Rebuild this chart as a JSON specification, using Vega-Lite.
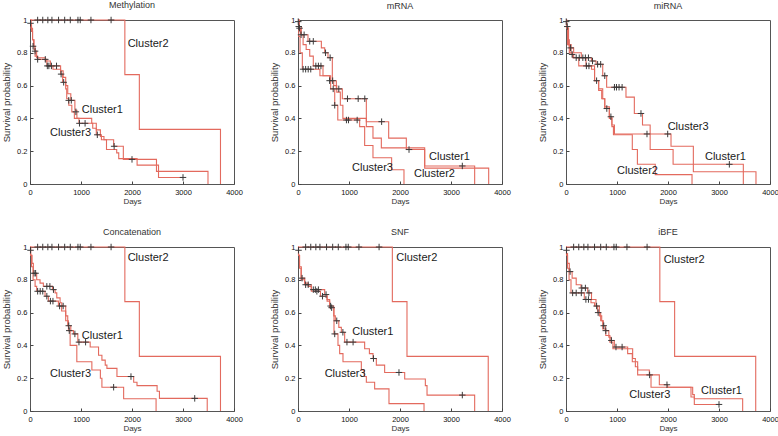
{
"$schema": "https://vega.github.io/schema/vega-lite/v6.json",
"padding": {"left": 1, "top": 0, "right": 0, "bottom": 0},
"background": "white",
"data": {"values": [
{"p":"Methylation","k":"c","g":"1","d":0,"s":1},{"p":"Methylation","k":"c","g":"1","d":15,"s":0.97},{"p":"Methylation","k":"c","g":"1","d":30,"s":0.93},{"p":"Methylation","k":"c","g":"1","d":50,"s":0.88},{"p":"Methylation","k":"c","g":"1","d":70,"s":0.84},{"p":"Methylation","k":"c","g":"1","d":100,"s":0.81},{"p":"Methylation","k":"c","g":"1","d":130,"s":0.77},{"p":"Methylation","k":"c","g":"1","d":300,"s":0.75},{"p":"Methylation","k":"c","g":"1","d":400,"s":0.72},{"p":"Methylation","k":"c","g":"1","d":600,"s":0.69},{"p":"Methylation","k":"c","g":"1","d":650,"s":0.65},{"p":"Methylation","k":"c","g":"1","d":700,"s":0.6},{"p":"Methylation","k":"c","g":"1","d":740,"s":0.55},{"p":"Methylation","k":"c","g":"1","d":800,"s":0.51},{"p":"Methylation","k":"c","g":"1","d":880,"s":0.45},{"p":"Methylation","k":"c","g":"1","d":920,"s":0.4},{"p":"Methylation","k":"c","g":"1","d":1210,"s":0.37},{"p":"Methylation","k":"c","g":"1","d":1300,"s":0.33},{"p":"Methylation","k":"c","g":"1","d":1380,"s":0.29},{"p":"Methylation","k":"c","g":"1","d":1450,"s":0.27},{"p":"Methylation","k":"c","g":"1","d":1640,"s":0.23},{"p":"Methylation","k":"c","g":"1","d":1830,"s":0.15},{"p":"Methylation","k":"c","g":"1","d":2480,"s":0.115},{"p":"Methylation","k":"c","g":"1","d":2520,"s":0.077},{"p":"Methylation","k":"c","g":"1","d":3490,"s":0},
{"p":"Methylation","k":"c","g":"3","d":0,"s":1},{"p":"Methylation","k":"c","g":"3","d":20,"s":0.95},{"p":"Methylation","k":"c","g":"3","d":50,"s":0.88},{"p":"Methylation","k":"c","g":"3","d":80,"s":0.82},{"p":"Methylation","k":"c","g":"3","d":100,"s":0.78},{"p":"Methylation","k":"c","g":"3","d":150,"s":0.76},{"p":"Methylation","k":"c","g":"3","d":330,"s":0.72},{"p":"Methylation","k":"c","g":"3","d":450,"s":0.7},{"p":"Methylation","k":"c","g":"3","d":600,"s":0.67},{"p":"Methylation","k":"c","g":"3","d":640,"s":0.62},{"p":"Methylation","k":"c","g":"3","d":700,"s":0.58},{"p":"Methylation","k":"c","g":"3","d":720,"s":0.52},{"p":"Methylation","k":"c","g":"3","d":760,"s":0.48},{"p":"Methylation","k":"c","g":"3","d":820,"s":0.44},{"p":"Methylation","k":"c","g":"3","d":870,"s":0.4},{"p":"Methylation","k":"c","g":"3","d":960,"s":0.37},{"p":"Methylation","k":"c","g":"3","d":1230,"s":0.34},{"p":"Methylation","k":"c","g":"3","d":1300,"s":0.3},{"p":"Methylation","k":"c","g":"3","d":1400,"s":0.27},{"p":"Methylation","k":"c","g":"3","d":1500,"s":0.21},{"p":"Methylation","k":"c","g":"3","d":1700,"s":0.19},{"p":"Methylation","k":"c","g":"3","d":1740,"s":0.155},{"p":"Methylation","k":"c","g":"3","d":2100,"s":0.115},{"p":"Methylation","k":"c","g":"3","d":2480,"s":0.077},{"p":"Methylation","k":"c","g":"3","d":2520,"s":0.04},{"p":"Methylation","k":"c","g":"3","d":3000,"s":0.04},
{"p":"Methylation","k":"c","g":"2","d":0,"s":1},{"p":"Methylation","k":"c","g":"2","d":1860,"s":0.667},{"p":"Methylation","k":"c","g":"2","d":2144,"s":0.333},{"p":"Methylation","k":"c","g":"2","d":3735,"s":0},
{"p":"Methylation","k":"x","d":10,"s":0.98},{"p":"Methylation","k":"x","d":60,"s":0.84},{"p":"Methylation","k":"x","d":100,"s":0.81},{"p":"Methylation","k":"x","d":150,"s":0.76},{"p":"Methylation","k":"x","d":300,"s":0.76},{"p":"Methylation","k":"x","d":340,"s":0.72},{"p":"Methylation","k":"x","d":370,"s":0.72},{"p":"Methylation","k":"x","d":420,"s":0.72},{"p":"Methylation","k":"x","d":520,"s":0.72},{"p":"Methylation","k":"x","d":610,"s":0.67},{"p":"Methylation","k":"x","d":660,"s":0.62},{"p":"Methylation","k":"x","d":760,"s":0.51},{"p":"Methylation","k":"x","d":810,"s":0.51},{"p":"Methylation","k":"x","d":900,"s":0.44},{"p":"Methylation","k":"x","d":970,"s":0.37},{"p":"Methylation","k":"x","d":1080,"s":0.37},{"p":"Methylation","k":"x","d":1320,"s":0.3},{"p":"Methylation","k":"x","d":1650,"s":0.23},{"p":"Methylation","k":"x","d":2000,"s":0.15},{"p":"Methylation","k":"x","d":3000,"s":0.04},
{"p":"Methylation","k":"x","d":150,"s":1},{"p":"Methylation","k":"x","d":250,"s":1},{"p":"Methylation","k":"x","d":350,"s":1},{"p":"Methylation","k":"x","d":430,"s":1},{"p":"Methylation","k":"x","d":560,"s":1},{"p":"Methylation","k":"x","d":680,"s":1},{"p":"Methylation","k":"x","d":790,"s":1},{"p":"Methylation","k":"x","d":940,"s":1},{"p":"Methylation","k":"x","d":985,"s":1},{"p":"Methylation","k":"x","d":1195,"s":1},{"p":"Methylation","k":"x","d":1590,"s":1},
{"p":"Methylation","k":"t","t":"Cluster2","d":1915,"s":0.852},{"p":"Methylation","k":"t","t":"Cluster1","d":1016,"s":0.452},{"p":"Methylation","k":"t","t":"Cluster3","d":393,"s":0.314},

{"p":"mRNA","k":"c","g":"1","d":0,"s":1},{"p":"mRNA","k":"c","g":"1","d":20,"s":0.96},{"p":"mRNA","k":"c","g":"1","d":65,"s":0.91},{"p":"mRNA","k":"c","g":"1","d":196,"s":0.87},{"p":"mRNA","k":"c","g":"1","d":458,"s":0.83},{"p":"mRNA","k":"c","g":"1","d":523,"s":0.8},{"p":"mRNA","k":"c","g":"1","d":588,"s":0.77},{"p":"mRNA","k":"c","g":"1","d":673,"s":0.63},{"p":"mRNA","k":"c","g":"1","d":752,"s":0.58},{"p":"mRNA","k":"c","g":"1","d":869,"s":0.52},{"p":"mRNA","k":"c","g":"1","d":1340,"s":0.38},{"p":"mRNA","k":"c","g":"1","d":1778,"s":0.28},{"p":"mRNA","k":"c","g":"1","d":2124,"s":0.21},{"p":"mRNA","k":"c","g":"1","d":2484,"s":0.097},{"p":"mRNA","k":"c","g":"1","d":3739,"s":0},
{"p":"mRNA","k":"c","g":"2","d":0,"s":1},{"p":"mRNA","k":"c","g":"2","d":25,"s":0.95},{"p":"mRNA","k":"c","g":"2","d":50,"s":0.91},{"p":"mRNA","k":"c","g":"2","d":100,"s":0.85},{"p":"mRNA","k":"c","g":"2","d":160,"s":0.82},{"p":"mRNA","k":"c","g":"2","d":230,"s":0.78},{"p":"mRNA","k":"c","g":"2","d":300,"s":0.72},{"p":"mRNA","k":"c","g":"2","d":490,"s":0.66},{"p":"mRNA","k":"c","g":"2","d":620,"s":0.63},{"p":"mRNA","k":"c","g":"2","d":700,"s":0.6},{"p":"mRNA","k":"c","g":"2","d":760,"s":0.56},{"p":"mRNA","k":"c","g":"2","d":830,"s":0.48},{"p":"mRNA","k":"c","g":"2","d":880,"s":0.4},{"p":"mRNA","k":"c","g":"2","d":1340,"s":0.35},{"p":"mRNA","k":"c","g":"2","d":1470,"s":0.28},{"p":"mRNA","k":"c","g":"2","d":1634,"s":0.22},{"p":"mRNA","k":"c","g":"2","d":2484,"s":0.11},{"p":"mRNA","k":"c","g":"2","d":3464,"s":0},
{"p":"mRNA","k":"c","g":"3","d":0,"s":1},{"p":"mRNA","k":"c","g":"3","d":15,"s":0.9},{"p":"mRNA","k":"c","g":"3","d":40,"s":0.8},{"p":"mRNA","k":"c","g":"3","d":85,"s":0.7},{"p":"mRNA","k":"c","g":"3","d":430,"s":0.66},{"p":"mRNA","k":"c","g":"3","d":640,"s":0.58},{"p":"mRNA","k":"c","g":"3","d":720,"s":0.48},{"p":"mRNA","k":"c","g":"3","d":780,"s":0.39},{"p":"mRNA","k":"c","g":"3","d":1209,"s":0.35},{"p":"mRNA","k":"c","g":"3","d":1307,"s":0.235},{"p":"mRNA","k":"c","g":"3","d":1470,"s":0.16},{"p":"mRNA","k":"c","g":"3","d":1836,"s":0.087},{"p":"mRNA","k":"c","g":"3","d":2078,"s":0},
{"p":"mRNA","k":"x","d":5,"s":0.99},{"p":"mRNA","k":"x","d":15,"s":0.96},{"p":"mRNA","k":"x","d":30,"s":0.95},{"p":"mRNA","k":"x","d":60,"s":0.91},{"p":"mRNA","k":"x","d":120,"s":0.91},{"p":"mRNA","k":"x","d":230,"s":0.87},{"p":"mRNA","k":"x","d":300,"s":0.87},{"p":"mRNA","k":"x","d":540,"s":0.8},{"p":"mRNA","k":"x","d":630,"s":0.77},{"p":"mRNA","k":"x","d":100,"s":0.7},{"p":"mRNA","k":"x","d":150,"s":0.7},{"p":"mRNA","k":"x","d":200,"s":0.7},{"p":"mRNA","k":"x","d":250,"s":0.7},{"p":"mRNA","k":"x","d":350,"s":0.72},{"p":"mRNA","k":"x","d":400,"s":0.72},{"p":"mRNA","k":"x","d":450,"s":0.72},{"p":"mRNA","k":"x","d":620,"s":0.63},{"p":"mRNA","k":"x","d":680,"s":0.63},{"p":"mRNA","k":"x","d":690,"s":0.58},{"p":"mRNA","k":"x","d":720,"s":0.48},{"p":"mRNA","k":"x","d":800,"s":0.58},{"p":"mRNA","k":"x","d":970,"s":0.52},{"p":"mRNA","k":"x","d":1180,"s":0.52},{"p":"mRNA","k":"x","d":1310,"s":0.52},{"p":"mRNA","k":"x","d":950,"s":0.39},{"p":"mRNA","k":"x","d":990,"s":0.39},{"p":"mRNA","k":"x","d":1160,"s":0.39},{"p":"mRNA","k":"x","d":1640,"s":0.38},{"p":"mRNA","k":"x","d":2177,"s":0.21},{"p":"mRNA","k":"x","d":3222,"s":0.11},
{"p":"mRNA","k":"t","t":"Cluster1","d":2569,"s":0.162},{"p":"mRNA","k":"t","t":"Cluster2","d":2274,"s":0.061},{"p":"mRNA","k":"t","t":"Cluster3","d":1059,"s":0.097},

{"p":"miRNA","k":"c","g":"1","d":0,"s":1},{"p":"miRNA","k":"c","g":"1","d":10,"s":0.96},{"p":"miRNA","k":"c","g":"1","d":40,"s":0.88},{"p":"miRNA","k":"c","g":"1","d":65,"s":0.83},{"p":"miRNA","k":"c","g":"1","d":150,"s":0.8},{"p":"miRNA","k":"c","g":"1","d":300,"s":0.77},{"p":"miRNA","k":"c","g":"1","d":500,"s":0.75},{"p":"miRNA","k":"c","g":"1","d":590,"s":0.73},{"p":"miRNA","k":"c","g":"1","d":720,"s":0.66},{"p":"miRNA","k":"c","g":"1","d":797,"s":0.59},{"p":"miRNA","k":"c","g":"1","d":1176,"s":0.53},{"p":"miRNA","k":"c","g":"1","d":1340,"s":0.43},{"p":"miRNA","k":"c","g":"1","d":1500,"s":0.36},{"p":"miRNA","k":"c","g":"1","d":1650,"s":0.21},{"p":"miRNA","k":"c","g":"1","d":2100,"s":0.12},{"p":"miRNA","k":"c","g":"1","d":3477,"s":0},
{"p":"miRNA","k":"c","g":"3","d":0,"s":1},{"p":"miRNA","k":"c","g":"3","d":15,"s":0.95},{"p":"miRNA","k":"c","g":"3","d":50,"s":0.85},{"p":"miRNA","k":"c","g":"3","d":100,"s":0.79},{"p":"miRNA","k":"c","g":"3","d":150,"s":0.77},{"p":"miRNA","k":"c","g":"3","d":250,"s":0.72},{"p":"miRNA","k":"c","g":"3","d":500,"s":0.7},{"p":"miRNA","k":"c","g":"3","d":560,"s":0.63},{"p":"miRNA","k":"c","g":"3","d":640,"s":0.58},{"p":"miRNA","k":"c","g":"3","d":720,"s":0.52},{"p":"miRNA","k":"c","g":"3","d":760,"s":0.47},{"p":"miRNA","k":"c","g":"3","d":850,"s":0.4},{"p":"miRNA","k":"c","g":"3","d":900,"s":0.36},{"p":"miRNA","k":"c","g":"3","d":950,"s":0.305},{"p":"miRNA","k":"c","g":"3","d":2059,"s":0.23},{"p":"miRNA","k":"c","g":"3","d":2497,"s":0.075},{"p":"miRNA","k":"c","g":"3","d":3725,"s":0},
{"p":"miRNA","k":"c","g":"2","d":0,"s":1},{"p":"miRNA","k":"c","g":"2","d":10,"s":0.95},{"p":"miRNA","k":"c","g":"2","d":30,"s":0.85},{"p":"miRNA","k":"c","g":"2","d":65,"s":0.8},{"p":"miRNA","k":"c","g":"2","d":130,"s":0.77},{"p":"miRNA","k":"c","g":"2","d":392,"s":0.72},{"p":"miRNA","k":"c","g":"2","d":560,"s":0.63},{"p":"miRNA","k":"c","g":"2","d":640,"s":0.57},{"p":"miRNA","k":"c","g":"2","d":700,"s":0.52},{"p":"miRNA","k":"c","g":"2","d":760,"s":0.46},{"p":"miRNA","k":"c","g":"2","d":850,"s":0.41},{"p":"miRNA","k":"c","g":"2","d":900,"s":0.35},{"p":"miRNA","k":"c","g":"2","d":930,"s":0.3},{"p":"miRNA","k":"c","g":"2","d":1300,"s":0.21},{"p":"miRNA","k":"c","g":"2","d":1400,"s":0.12},{"p":"miRNA","k":"c","g":"2","d":1750,"s":0.057},{"p":"miRNA","k":"c","g":"2","d":2471,"s":0},
{"p":"miRNA","k":"x","d":5,"s":0.99},{"p":"miRNA","k":"x","d":25,"s":0.96},{"p":"miRNA","k":"x","d":90,"s":0.83},{"p":"miRNA","k":"x","d":120,"s":0.79},{"p":"miRNA","k":"x","d":200,"s":0.77},{"p":"miRNA","k":"x","d":260,"s":0.77},{"p":"miRNA","k":"x","d":330,"s":0.77},{"p":"miRNA","k":"x","d":380,"s":0.77},{"p":"miRNA","k":"x","d":440,"s":0.77},{"p":"miRNA","k":"x","d":400,"s":0.72},{"p":"miRNA","k":"x","d":450,"s":0.72},{"p":"miRNA","k":"x","d":520,"s":0.75},{"p":"miRNA","k":"x","d":620,"s":0.73},{"p":"miRNA","k":"x","d":680,"s":0.73},{"p":"miRNA","k":"x","d":600,"s":0.63},{"p":"miRNA","k":"x","d":760,"s":0.66},{"p":"miRNA","k":"x","d":800,"s":0.46},{"p":"miRNA","k":"x","d":880,"s":0.41},{"p":"miRNA","k":"x","d":950,"s":0.59},{"p":"miRNA","k":"x","d":990,"s":0.59},{"p":"miRNA","k":"x","d":1040,"s":0.59},{"p":"miRNA","k":"x","d":1100,"s":0.59},{"p":"miRNA","k":"x","d":1470,"s":0.43},{"p":"miRNA","k":"x","d":1588,"s":0.305},{"p":"miRNA","k":"x","d":1994,"s":0.305},{"p":"miRNA","k":"x","d":3203,"s":0.12},
{"p":"miRNA","k":"t","t":"Cluster3","d":1993,"s":0.345},{"p":"miRNA","k":"t","t":"Cluster1","d":2725,"s":0.162},{"p":"miRNA","k":"t","t":"Cluster2","d":1000,"s":0.081},

{"p":"Concatenation","k":"c","g":"1","d":0,"s":1},{"p":"Concatenation","k":"c","g":"1","d":15,"s":0.95},{"p":"Concatenation","k":"c","g":"1","d":40,"s":0.9},{"p":"Concatenation","k":"c","g":"1","d":66,"s":0.84},{"p":"Concatenation","k":"c","g":"1","d":131,"s":0.8},{"p":"Concatenation","k":"c","g":"1","d":197,"s":0.78},{"p":"Concatenation","k":"c","g":"1","d":262,"s":0.76},{"p":"Concatenation","k":"c","g":"1","d":440,"s":0.74},{"p":"Concatenation","k":"c","g":"1","d":492,"s":0.72},{"p":"Concatenation","k":"c","g":"1","d":525,"s":0.69},{"p":"Concatenation","k":"c","g":"1","d":590,"s":0.66},{"p":"Concatenation","k":"c","g":"1","d":623,"s":0.64},{"p":"Concatenation","k":"c","g":"1","d":700,"s":0.58},{"p":"Concatenation","k":"c","g":"1","d":740,"s":0.52},{"p":"Concatenation","k":"c","g":"1","d":800,"s":0.49},{"p":"Concatenation","k":"c","g":"1","d":852,"s":0.47},{"p":"Concatenation","k":"c","g":"1","d":938,"s":0.42},{"p":"Concatenation","k":"c","g":"1","d":1180,"s":0.39},{"p":"Concatenation","k":"c","g":"1","d":1344,"s":0.34},{"p":"Concatenation","k":"c","g":"1","d":1410,"s":0.31},{"p":"Concatenation","k":"c","g":"1","d":1475,"s":0.28},{"p":"Concatenation","k":"c","g":"1","d":1508,"s":0.26},{"p":"Concatenation","k":"c","g":"1","d":1705,"s":0.21},{"p":"Concatenation","k":"c","g":"1","d":2033,"s":0.175},{"p":"Concatenation","k":"c","g":"1","d":2098,"s":0.155},{"p":"Concatenation","k":"c","g":"1","d":2492,"s":0.12},{"p":"Concatenation","k":"c","g":"1","d":2538,"s":0.077},{"p":"Concatenation","k":"c","g":"1","d":3475,"s":0},
{"p":"Concatenation","k":"c","g":"3","d":0,"s":1},{"p":"Concatenation","k":"c","g":"3","d":10,"s":0.95},{"p":"Concatenation","k":"c","g":"3","d":30,"s":0.88},{"p":"Concatenation","k":"c","g":"3","d":60,"s":0.8},{"p":"Concatenation","k":"c","g":"3","d":100,"s":0.76},{"p":"Concatenation","k":"c","g":"3","d":131,"s":0.73},{"p":"Concatenation","k":"c","g":"3","d":295,"s":0.7},{"p":"Concatenation","k":"c","g":"3","d":361,"s":0.67},{"p":"Concatenation","k":"c","g":"3","d":557,"s":0.64},{"p":"Concatenation","k":"c","g":"3","d":620,"s":0.61},{"p":"Concatenation","k":"c","g":"3","d":700,"s":0.55},{"p":"Concatenation","k":"c","g":"3","d":754,"s":0.49},{"p":"Concatenation","k":"c","g":"3","d":787,"s":0.4},{"p":"Concatenation","k":"c","g":"3","d":918,"s":0.3},{"p":"Concatenation","k":"c","g":"3","d":1213,"s":0.25},{"p":"Concatenation","k":"c","g":"3","d":1380,"s":0.2},{"p":"Concatenation","k":"c","g":"3","d":1410,"s":0.145},{"p":"Concatenation","k":"c","g":"3","d":1836,"s":0.075},{"p":"Concatenation","k":"c","g":"3","d":2472,"s":0},
{"p":"Concatenation","k":"c","g":"2","d":0,"s":1},{"p":"Concatenation","k":"c","g":"2","d":1860,"s":0.667},{"p":"Concatenation","k":"c","g":"2","d":2144,"s":0.333},{"p":"Concatenation","k":"c","g":"2","d":3735,"s":0},
{"p":"Concatenation","k":"x","d":10,"s":0.98},{"p":"Concatenation","k":"x","d":80,"s":0.84},{"p":"Concatenation","k":"x","d":110,"s":0.84},{"p":"Concatenation","k":"x","d":150,"s":0.73},{"p":"Concatenation","k":"x","d":200,"s":0.73},{"p":"Concatenation","k":"x","d":250,"s":0.73},{"p":"Concatenation","k":"x","d":330,"s":0.76},{"p":"Concatenation","k":"x","d":390,"s":0.76},{"p":"Concatenation","k":"x","d":330,"s":0.7},{"p":"Concatenation","k":"x","d":400,"s":0.67},{"p":"Concatenation","k":"x","d":450,"s":0.67},{"p":"Concatenation","k":"x","d":460,"s":0.74},{"p":"Concatenation","k":"x","d":580,"s":0.64},{"p":"Concatenation","k":"x","d":650,"s":0.64},{"p":"Concatenation","k":"x","d":760,"s":0.52},{"p":"Concatenation","k":"x","d":770,"s":0.49},{"p":"Concatenation","k":"x","d":880,"s":0.47},{"p":"Concatenation","k":"x","d":960,"s":0.42},{"p":"Concatenation","k":"x","d":1090,"s":0.42},{"p":"Concatenation","k":"x","d":1640,"s":0.145},{"p":"Concatenation","k":"x","d":1980,"s":0.21},{"p":"Concatenation","k":"x","d":3230,"s":0.077},
{"p":"Concatenation","k":"x","d":150,"s":1},{"p":"Concatenation","k":"x","d":250,"s":1},{"p":"Concatenation","k":"x","d":350,"s":1},{"p":"Concatenation","k":"x","d":430,"s":1},{"p":"Concatenation","k":"x","d":560,"s":1},{"p":"Concatenation","k":"x","d":680,"s":1},{"p":"Concatenation","k":"x","d":790,"s":1},{"p":"Concatenation","k":"x","d":940,"s":1},{"p":"Concatenation","k":"x","d":985,"s":1},{"p":"Concatenation","k":"x","d":1195,"s":1},{"p":"Concatenation","k":"x","d":1590,"s":1},
{"p":"Concatenation","k":"t","t":"Cluster2","d":1915,"s":0.933},{"p":"Concatenation","k":"t","t":"Cluster1","d":1016,"s":0.46},{"p":"Concatenation","k":"t","t":"Cluster3","d":393,"s":0.226},

{"p":"SNF","k":"c","g":"1","d":0,"s":1},{"p":"SNF","k":"c","g":"1","d":10,"s":0.95},{"p":"SNF","k":"c","g":"1","d":30,"s":0.88},{"p":"SNF","k":"c","g":"1","d":65,"s":0.81},{"p":"SNF","k":"c","g":"1","d":131,"s":0.78},{"p":"SNF","k":"c","g":"1","d":200,"s":0.76},{"p":"SNF","k":"c","g":"1","d":261,"s":0.74},{"p":"SNF","k":"c","g":"1","d":523,"s":0.71},{"p":"SNF","k":"c","g":"1","d":570,"s":0.68},{"p":"SNF","k":"c","g":"1","d":621,"s":0.64},{"p":"SNF","k":"c","g":"1","d":700,"s":0.58},{"p":"SNF","k":"c","g":"1","d":732,"s":0.55},{"p":"SNF","k":"c","g":"1","d":800,"s":0.51},{"p":"SNF","k":"c","g":"1","d":850,"s":0.48},{"p":"SNF","k":"c","g":"1","d":915,"s":0.42},{"p":"SNF","k":"c","g":"1","d":1307,"s":0.38},{"p":"SNF","k":"c","g":"1","d":1400,"s":0.35},{"p":"SNF","k":"c","g":"1","d":1471,"s":0.32},{"p":"SNF","k":"c","g":"1","d":1536,"s":0.28},{"p":"SNF","k":"c","g":"1","d":1699,"s":0.235},{"p":"SNF","k":"c","g":"1","d":2092,"s":0.195},{"p":"SNF","k":"c","g":"1","d":2497,"s":0.155},{"p":"SNF","k":"c","g":"1","d":2530,"s":0.097},{"p":"SNF","k":"c","g":"1","d":3464,"s":0},
{"p":"SNF","k":"c","g":"3","d":0,"s":1},{"p":"SNF","k":"c","g":"3","d":10,"s":0.95},{"p":"SNF","k":"c","g":"3","d":30,"s":0.87},{"p":"SNF","k":"c","g":"3","d":60,"s":0.8},{"p":"SNF","k":"c","g":"3","d":131,"s":0.77},{"p":"SNF","k":"c","g":"3","d":261,"s":0.73},{"p":"SNF","k":"c","g":"3","d":440,"s":0.7},{"p":"SNF","k":"c","g":"3","d":570,"s":0.67},{"p":"SNF","k":"c","g":"3","d":621,"s":0.63},{"p":"SNF","k":"c","g":"3","d":706,"s":0.47},{"p":"SNF","k":"c","g":"3","d":784,"s":0.4},{"p":"SNF","k":"c","g":"3","d":817,"s":0.35},{"p":"SNF","k":"c","g":"3","d":882,"s":0.3},{"p":"SNF","k":"c","g":"3","d":1242,"s":0.25},{"p":"SNF","k":"c","g":"3","d":1300,"s":0.21},{"p":"SNF","k":"c","g":"3","d":1340,"s":0.175},{"p":"SNF","k":"c","g":"3","d":1503,"s":0.135},{"p":"SNF","k":"c","g":"3","d":1784,"s":0.045},{"p":"SNF","k":"c","g":"3","d":2471,"s":0},
{"p":"SNF","k":"c","g":"2","d":0,"s":1},{"p":"SNF","k":"c","g":"2","d":1850,"s":0.667},{"p":"SNF","k":"c","g":"2","d":2137,"s":0.333},{"p":"SNF","k":"c","g":"2","d":3730,"s":0},
{"p":"SNF","k":"x","d":10,"s":0.98},{"p":"SNF","k":"x","d":80,"s":0.81},{"p":"SNF","k":"x","d":150,"s":0.77},{"p":"SNF","k":"x","d":200,"s":0.77},{"p":"SNF","k":"x","d":300,"s":0.74},{"p":"SNF","k":"x","d":340,"s":0.74},{"p":"SNF","k":"x","d":400,"s":0.74},{"p":"SNF","k":"x","d":370,"s":0.73},{"p":"SNF","k":"x","d":550,"s":0.71},{"p":"SNF","k":"x","d":480,"s":0.7},{"p":"SNF","k":"x","d":640,"s":0.64},{"p":"SNF","k":"x","d":660,"s":0.63},{"p":"SNF","k":"x","d":720,"s":0.47},{"p":"SNF","k":"x","d":760,"s":0.55},{"p":"SNF","k":"x","d":880,"s":0.48},{"p":"SNF","k":"x","d":960,"s":0.42},{"p":"SNF","k":"x","d":1080,"s":0.42},{"p":"SNF","k":"x","d":1480,"s":0.32},{"p":"SNF","k":"x","d":1980,"s":0.235},{"p":"SNF","k":"x","d":3222,"s":0.097},
{"p":"SNF","k":"x","d":150,"s":1},{"p":"SNF","k":"x","d":250,"s":1},{"p":"SNF","k":"x","d":350,"s":1},{"p":"SNF","k":"x","d":430,"s":1},{"p":"SNF","k":"x","d":560,"s":1},{"p":"SNF","k":"x","d":680,"s":1},{"p":"SNF","k":"x","d":790,"s":1},{"p":"SNF","k":"x","d":940,"s":1},{"p":"SNF","k":"x","d":985,"s":1},{"p":"SNF","k":"x","d":1195,"s":1},{"p":"SNF","k":"x","d":1590,"s":1},
{"p":"SNF","k":"t","t":"Cluster2","d":1928,"s":0.933},{"p":"SNF","k":"t","t":"Cluster1","d":1065,"s":0.48},{"p":"SNF","k":"t","t":"Cluster3","d":523,"s":0.224},

{"p":"iBFE","k":"c","g":"1","d":0,"s":1},{"p":"iBFE","k":"c","g":"1","d":10,"s":0.96},{"p":"iBFE","k":"c","g":"1","d":30,"s":0.9},{"p":"iBFE","k":"c","g":"1","d":65,"s":0.85},{"p":"iBFE","k":"c","g":"1","d":120,"s":0.81},{"p":"iBFE","k":"c","g":"1","d":200,"s":0.77},{"p":"iBFE","k":"c","g":"1","d":294,"s":0.75},{"p":"iBFE","k":"c","g":"1","d":425,"s":0.72},{"p":"iBFE","k":"c","g":"1","d":500,"s":0.68},{"p":"iBFE","k":"c","g":"1","d":588,"s":0.64},{"p":"iBFE","k":"c","g":"1","d":654,"s":0.58},{"p":"iBFE","k":"c","g":"1","d":700,"s":0.55},{"p":"iBFE","k":"c","g":"1","d":732,"s":0.52},{"p":"iBFE","k":"c","g":"1","d":771,"s":0.49},{"p":"iBFE","k":"c","g":"1","d":840,"s":0.45},{"p":"iBFE","k":"c","g":"1","d":882,"s":0.43},{"p":"iBFE","k":"c","g":"1","d":948,"s":0.39},{"p":"iBFE","k":"c","g":"1","d":1209,"s":0.35},{"p":"iBFE","k":"c","g":"1","d":1300,"s":0.3},{"p":"iBFE","k":"c","g":"1","d":1405,"s":0.25},{"p":"iBFE","k":"c","g":"1","d":1634,"s":0.22},{"p":"iBFE","k":"c","g":"1","d":1830,"s":0.16},{"p":"iBFE","k":"c","g":"1","d":1993,"s":0.145},{"p":"iBFE","k":"c","g":"1","d":2484,"s":0.1},{"p":"iBFE","k":"c","g":"1","d":2516,"s":0.075},{"p":"iBFE","k":"c","g":"1","d":3464,"s":0},
{"p":"iBFE","k":"c","g":"3","d":0,"s":1},{"p":"iBFE","k":"c","g":"3","d":10,"s":0.95},{"p":"iBFE","k":"c","g":"3","d":30,"s":0.87},{"p":"iBFE","k":"c","g":"3","d":60,"s":0.8},{"p":"iBFE","k":"c","g":"3","d":98,"s":0.72},{"p":"iBFE","k":"c","g":"3","d":359,"s":0.68},{"p":"iBFE","k":"c","g":"3","d":490,"s":0.66},{"p":"iBFE","k":"c","g":"3","d":560,"s":0.64},{"p":"iBFE","k":"c","g":"3","d":620,"s":0.6},{"p":"iBFE","k":"c","g":"3","d":680,"s":0.55},{"p":"iBFE","k":"c","g":"3","d":720,"s":0.5},{"p":"iBFE","k":"c","g":"3","d":780,"s":0.46},{"p":"iBFE","k":"c","g":"3","d":860,"s":0.42},{"p":"iBFE","k":"c","g":"3","d":920,"s":0.38},{"p":"iBFE","k":"c","g":"3","d":1307,"s":0.32},{"p":"iBFE","k":"c","g":"3","d":1360,"s":0.27},{"p":"iBFE","k":"c","g":"3","d":1405,"s":0.22},{"p":"iBFE","k":"c","g":"3","d":1667,"s":0.145},{"p":"iBFE","k":"c","g":"3","d":2451,"s":0.085},{"p":"iBFE","k":"c","g":"3","d":2516,"s":0.04},{"p":"iBFE","k":"c","g":"3","d":3000,"s":0.04},
{"p":"iBFE","k":"c","g":"2","d":0,"s":1},{"p":"iBFE","k":"c","g":"2","d":1840,"s":0.667},{"p":"iBFE","k":"c","g":"2","d":2130,"s":0.333},{"p":"iBFE","k":"c","g":"2","d":3720,"s":0},
{"p":"iBFE","k":"x","d":10,"s":0.98},{"p":"iBFE","k":"x","d":80,"s":0.85},{"p":"iBFE","k":"x","d":130,"s":0.72},{"p":"iBFE","k":"x","d":200,"s":0.72},{"p":"iBFE","k":"x","d":300,"s":0.72},{"p":"iBFE","k":"x","d":310,"s":0.75},{"p":"iBFE","k":"x","d":380,"s":0.75},{"p":"iBFE","k":"x","d":390,"s":0.68},{"p":"iBFE","k":"x","d":440,"s":0.68},{"p":"iBFE","k":"x","d":450,"s":0.72},{"p":"iBFE","k":"x","d":600,"s":0.64},{"p":"iBFE","k":"x","d":630,"s":0.6},{"p":"iBFE","k":"x","d":740,"s":0.52},{"p":"iBFE","k":"x","d":780,"s":0.49},{"p":"iBFE","k":"x","d":890,"s":0.43},{"p":"iBFE","k":"x","d":980,"s":0.39},{"p":"iBFE","k":"x","d":1100,"s":0.39},{"p":"iBFE","k":"x","d":1640,"s":0.22},{"p":"iBFE","k":"x","d":1980,"s":0.16},{"p":"iBFE","k":"x","d":3000,"s":0.04},
{"p":"iBFE","k":"x","d":150,"s":1},{"p":"iBFE","k":"x","d":250,"s":1},{"p":"iBFE","k":"x","d":350,"s":1},{"p":"iBFE","k":"x","d":430,"s":1},{"p":"iBFE","k":"x","d":560,"s":1},{"p":"iBFE","k":"x","d":680,"s":1},{"p":"iBFE","k":"x","d":790,"s":1},{"p":"iBFE","k":"x","d":940,"s":1},{"p":"iBFE","k":"x","d":985,"s":1},{"p":"iBFE","k":"x","d":1195,"s":1},{"p":"iBFE","k":"x","d":1590,"s":1},
{"p":"iBFE","k":"t","t":"Cluster2","d":1915,"s":0.918},{"p":"iBFE","k":"t","t":"Cluster1","d":2647,"s":0.122},{"p":"iBFE","k":"t","t":"Cluster3","d":1242,"s":0.098}
]},
"facet": {"field": "p", "type": "nominal", "sort": ["Methylation","mRNA","miRNA","Concatenation","SNF","iBFE"],
  "header": {"title": null, "labelFont": "Liberation Sans", "labelFontSize": 9, "labelColor": "#333", "labelPadding": 5}},
"columns": 3,
"spacing": {"row": 63, "column": 64},
"bounds": "flush",
"resolve": {"axis": {"x": "independent", "y": "independent"}},
"spec": {
  "width": 204,
  "height": 164,
  "encoding": {
    "x": {"field": "d", "type": "quantitative", "scale": {"domain": [0, 4000], "nice": false},
      "axis": {"title": "Days", "values": [0,1000,2000,3000,4000], "format": "d", "labelPadding": 7, "titleFontSize": 8, "titlePadding": 2}},
    "y": {"field": "s", "type": "quantitative", "scale": {"domain": [0, 1], "nice": false},
      "axis": {"title": "Survival probability", "values": [0,0.2,0.4,0.6,0.8,1], "format": "~g", "labelPadding": 6, "titleFontSize": 9.5, "titlePadding": 5}}
  },
  "layer": [
    {"transform": [{"filter": "datum.k == 'c'"}],
     "mark": {"type": "line", "interpolate": "step-after", "color": "#e36a5e", "strokeWidth": 1.1},
     "encoding": {"detail": {"field": "g"}}},
    {"transform": [{"filter": "datum.k == 'x'"}],
     "mark": {"type": "point", "shape": "M-1,0H1M0,-1V1", "filled": false, "stroke": "#3a3a3a", "strokeWidth": 1, "size": 42, "opacity": 1}},
    {"transform": [{"filter": "datum.k == 't'"}],
     "mark": {"type": "text", "align": "left", "baseline": "middle", "font": "Liberation Sans", "fontSize": 11, "color": "#1a1a1a"},
     "encoding": {"text": {"field": "t"}}}
  ]
},
"config": {
  "view": {"stroke": "#555", "strokeWidth": 1},
  "axis": {"grid": false, "domain": false, "tickColor": "#444", "tickSize": -3, "labelFlush": false,
    "labelFont": "Liberation Sans", "labelFontSize": 7.5, "labelColor": "#111",
    "titleFont": "Liberation Sans", "titleFontWeight": "normal", "titleColor": "#333"}
}
}
